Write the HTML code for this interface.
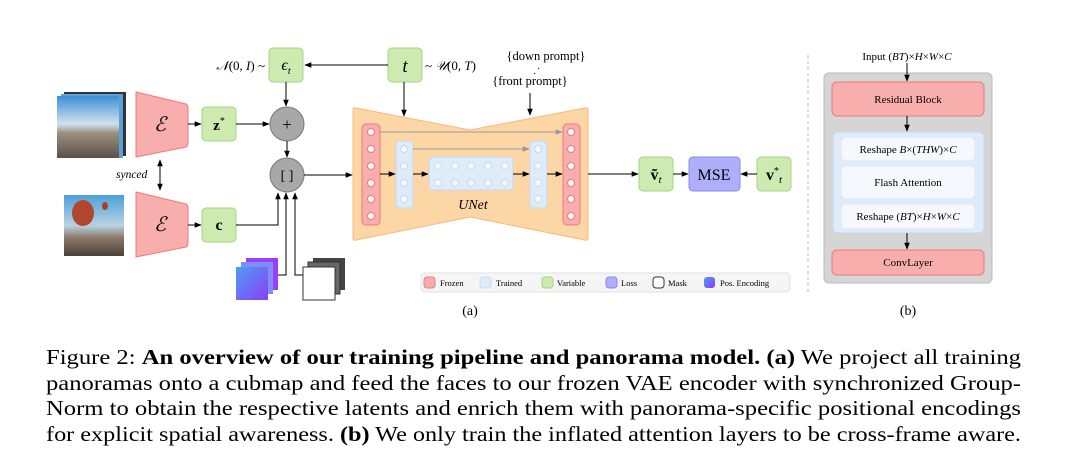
<!DOCTYPE html>
<html><head><meta charset="utf-8"><style>
html,body{margin:0;padding:0;background:#fff}
svg{display:block}
text{font-family:"Liberation Serif",serif}
</style></head><body>
<svg width="1080" height="475" viewBox="0 0 1080 475" xmlns="http://www.w3.org/2000/svg">
<defs>
<marker id="ar" viewBox="0 0 10 10" refX="9" refY="5" markerWidth="7" markerHeight="7" orient="auto"><path d="M0,1 L10,5 L0,9 z" fill="#000"/></marker>
<marker id="ag" viewBox="0 0 10 10" refX="9" refY="5" markerWidth="7" markerHeight="7" orient="auto"><path d="M0,1 L10,5 L0,9 z" fill="#999"/></marker>
<marker id="ars" viewBox="0 0 10 10" refX="1" refY="5" markerWidth="7" markerHeight="7" orient="auto"><path d="M10,1 L0,5 L10,9 z" fill="#000"/></marker>
<linearGradient id="sky" x1="0" y1="0" x2="0" y2="1"><stop offset="0" stop-color="#3d8fd6"/><stop offset="0.45" stop-color="#cfe2ee"/><stop offset="0.6" stop-color="#9a8f80"/><stop offset="1" stop-color="#5a5048"/></linearGradient>
<linearGradient id="sky2" x1="0" y1="0" x2="0" y2="1"><stop offset="0" stop-color="#4aa0dc"/><stop offset="0.5" stop-color="#b9d2e0"/><stop offset="0.7" stop-color="#8b7a6a"/><stop offset="1" stop-color="#4a4038"/></linearGradient>
<linearGradient id="pos" x1="0" y1="0" x2="1" y2="1"><stop offset="0" stop-color="#4f9cf5"/><stop offset="1" stop-color="#8a3ff5"/></linearGradient>
</defs>

<!-- images -->
<rect x="64" y="92" width="62" height="64" fill="#333"/>
<rect x="61" y="94" width="62" height="64" fill="#58a0d8"/>
<rect x="57" y="96" width="62" height="62" fill="url(#sky)"/>
<rect x="64" y="195" width="60" height="61" fill="url(#sky2)"/>
<ellipse cx="83" cy="213" rx="11" ry="13" fill="#b2452d"/>
<ellipse cx="105" cy="206" rx="3" ry="4" fill="#a34030"/>

<!-- encoders -->
<path d="M136,92 L186,104 Q188,105 188,108 L188,143 Q188,146 186,147 L136,157 Z" fill="#f9aeae" stroke="#f07878" stroke-width="1"/>
<path d="M136,192 L186,204 Q188,205 188,208 L188,243 Q188,246 186,247 L136,257 Z" fill="#f9aeae" stroke="#f07878" stroke-width="1"/>
<text x="160" y="131" font-size="20" font-style="italic" text-anchor="middle">ℰ</text>
<text x="160" y="231" font-size="20" font-style="italic" text-anchor="middle">ℰ</text>
<line x1="160" y1="160" x2="160" y2="190" stroke="#000" marker-end="url(#ar)" marker-start="url(#ars)"/>
<text x="116" y="178" font-size="11.5" font-style="italic">synced</text>

<!-- green boxes -->
<g fill="#cdeab0" stroke="#a6d486" stroke-width="1">
<rect x="202" y="107" width="34" height="34" rx="4"/>
<rect x="202" y="208" width="34" height="34" rx="4"/>
<rect x="269" y="48" width="34" height="34" rx="4"/>
<rect x="388" y="48" width="34" height="34" rx="4"/>
<rect x="639" y="157" width="34" height="34" rx="4"/>
<rect x="757" y="157" width="34" height="34" rx="4"/>
</g>
<text x="219" y="130" font-size="15" font-weight="bold" text-anchor="middle">z<tspan font-size="10" dy="-6" font-weight="normal">*</tspan></text>
<text x="219" y="230" font-size="16" font-weight="bold" text-anchor="middle">c</text>
<text x="286" y="70" font-size="16" font-style="italic" text-anchor="middle">ϵ<tspan font-size="10" dy="4">t</tspan></text>
<text x="405" y="72" font-size="19" font-style="italic" text-anchor="middle">t</text>
<text x="656" y="180" font-size="16" font-weight="bold" text-anchor="middle">ṽ<tspan font-size="11" font-style="italic" font-weight="normal" dy="3">t</tspan></text>
<text x="774" y="180" font-size="16" font-weight="bold" text-anchor="middle">v<tspan font-size="10" dy="-6" font-weight="normal">*</tspan><tspan font-size="11" font-style="italic" font-weight="normal" dy="9">t</tspan></text>
<text x="265" y="70" font-size="13" text-anchor="end"><tspan font-style="italic">𝒩</tspan>(0, <tspan font-style="italic">I</tspan>) ~</text>
<text x="425" y="70" font-size="13">~ <tspan font-style="italic">𝒰</tspan>(0, <tspan font-style="italic">T</tspan>)</text>
<text x="546" y="60" font-size="12.5" text-anchor="middle">{down prompt}</text>
<text x="530" y="85" font-size="12.5" text-anchor="middle">{front prompt}</text>
<text x="537" y="72" font-size="10">·</text><text x="533" y="77" font-size="10">·</text>

<!-- circles -->
<circle cx="287" cy="124" r="17" fill="#a8a8a8" stroke="#777"/>
<text x="287" y="130" font-size="17" text-anchor="middle">+</text>
<circle cx="287" cy="175" r="17" fill="#a8a8a8" stroke="#777"/>
<text x="287" y="180" font-size="14" text-anchor="middle">[ ]</text>

<!-- arrows left -->
<g stroke="#000" stroke-width="1" fill="none">
<line x1="388" y1="65" x2="305" y2="65" marker-end="url(#ar)"/>
<line x1="286" y1="82" x2="286" y2="106" marker-end="url(#ar)"/>
<line x1="188" y1="124" x2="201" y2="124" marker-end="url(#ar)"/>
<line x1="188" y1="225" x2="201" y2="225" marker-end="url(#ar)"/>
<line x1="236" y1="124" x2="269" y2="124" marker-end="url(#ar)"/>
<line x1="287" y1="141" x2="287" y2="157" marker-end="url(#ar)"/>
<polyline points="236,225 278,225 278,193" marker-end="url(#ar)"/>
<polyline points="278,275 286,275 286,193" marker-end="url(#ar)"/>
<polyline points="303,275 295,275 295,193" marker-end="url(#ar)"/>
<line x1="304" y1="175" x2="352" y2="175" marker-end="url(#ar)"/>
<line x1="404" y1="82" x2="404" y2="116" marker-end="url(#ar)"/>
<line x1="530" y1="93" x2="530" y2="115" marker-end="url(#ar)"/>
</g>

<!-- cubes -->
<rect x="246" y="258" width="32" height="32" fill="#9a3ff7"/>
<rect x="241" y="262" width="32" height="32" fill="#7e8ef7"/>
<rect x="236" y="267" width="32" height="33" fill="url(#pos)"/>
<rect x="313" y="258" width="32" height="32" fill="#444"/>
<rect x="308" y="262" width="32" height="32" fill="#666" stroke="#333"/>
<rect x="303" y="267" width="32" height="33" fill="#fff" stroke="#333"/>

<!-- UNet -->
<path d="M353,110 Q353,107 356,108 L470,130 L585,108 Q588,107 588,110 L588,238 Q588,241 585,240 L470,217 L356,240 Q353,241 353,238 Z" fill="#fdd6a6" stroke="#f8b878"/>
<g fill="#f9aeae" stroke="#f07878"><rect x="362" y="124" width="18" height="101" rx="4"/><rect x="563" y="124" width="17" height="101" rx="4"/></g>
<g fill="#deebf8" stroke="#c5daf0"><rect x="396" y="141" width="17" height="67" rx="4"/><rect x="530" y="141" width="17" height="67" rx="4"/><rect x="429" y="157" width="84" height="33" rx="4"/></g>
<g fill="#fff" stroke="#f07878">
<circle cx="371" cy="132" r="3.5"/><circle cx="371" cy="149" r="3.5"/><circle cx="371" cy="166" r="3.5"/><circle cx="371" cy="183" r="3.5"/><circle cx="371" cy="199" r="3.5"/><circle cx="371" cy="216" r="3.5"/>
<circle cx="571" cy="132" r="3.5"/><circle cx="571" cy="149" r="3.5"/><circle cx="571" cy="166" r="3.5"/><circle cx="571" cy="183" r="3.5"/><circle cx="571" cy="199" r="3.5"/><circle cx="571" cy="216" r="3.5"/>
</g>
<g fill="#f4f8fe" stroke="#c5daf0">
<circle cx="404" cy="149" r="3.5"/><circle cx="404" cy="166" r="3.5"/><circle cx="404" cy="183" r="3.5"/><circle cx="404" cy="199" r="3.5"/>
<circle cx="538" cy="149" r="3.5"/><circle cx="538" cy="166" r="3.5"/><circle cx="538" cy="183" r="3.5"/><circle cx="538" cy="199" r="3.5"/>
<circle cx="438" cy="166" r="3.5"/><circle cx="455" cy="166" r="3.5"/><circle cx="471" cy="166" r="3.5"/><circle cx="488" cy="166" r="3.5"/><circle cx="505" cy="166" r="3.5"/>
<circle cx="438" cy="183" r="3.5"/><circle cx="455" cy="183" r="3.5"/><circle cx="471" cy="183" r="3.5"/><circle cx="488" cy="183" r="3.5"/><circle cx="505" cy="183" r="3.5"/>
</g>
<g stroke="#999"><line x1="380" y1="132" x2="562" y2="132" marker-end="url(#ag)"/><line x1="413" y1="149" x2="529" y2="149" marker-end="url(#ag)"/></g>
<g stroke="#000"><line x1="380" y1="174" x2="395" y2="174" marker-end="url(#ar)"/><line x1="413" y1="174" x2="428" y2="174" marker-end="url(#ar)"/><line x1="513" y1="174" x2="529" y2="174" marker-end="url(#ar)"/><line x1="547" y1="174" x2="562" y2="174" marker-end="url(#ar)"/>
<line x1="588" y1="174" x2="638" y2="174" marker-end="url(#ar)"/><line x1="673" y1="174" x2="688" y2="174" marker-end="url(#ar)"/><line x1="757" y1="174" x2="741" y2="174" marker-end="url(#ar)"/></g>
<text x="473" y="209" font-size="14" font-style="italic" text-anchor="middle">UNet</text>
<rect x="689" y="157" width="51" height="34" rx="4" fill="#aeaefa" stroke="#8a8af0"/>
<text x="714" y="180" font-size="16" text-anchor="middle">MSE</text>

<!-- legend -->
<rect x="421" y="273" width="369" height="19" rx="4" fill="#f5f5f5" stroke="#e2e2e2"/>
<g font-size="8.5"><rect x="424" y="277" width="11" height="11" rx="3" fill="#f9aeae" stroke="#f07878"/><text x="440" y="286">Frozen</text>
<rect x="480" y="277" width="11" height="11" rx="3" fill="#deebf8" stroke="#c5daf0"/><text x="496" y="286">Trained</text>
<rect x="542" y="277" width="11" height="11" rx="3" fill="#cdeab0" stroke="#a6d486"/><text x="557" y="286">Variable</text>
<rect x="606" y="277" width="11" height="11" rx="3" fill="#aeaefa" stroke="#8a8af0"/><text x="621" y="286">Loss</text>
<rect x="653" y="277" width="11" height="11" rx="3" fill="#fff" stroke="#333"/><text x="668" y="286">Mask</text>
<rect x="704" y="277" width="11" height="11" rx="3" fill="url(#pos)"/><text x="720" y="286">Pos. Encoding</text></g>
<text x="470" y="315" font-size="14" text-anchor="middle">(a)</text>

<!-- panel b -->
<line x1="808" y1="55" x2="808" y2="292" stroke="#bbb" stroke-dasharray="3,3"/>
<text x="907" y="60" font-size="11" text-anchor="middle">Input (<tspan font-style="italic">BT</tspan>)×<tspan font-style="italic">H</tspan>×<tspan font-style="italic">W</tspan>×<tspan font-style="italic">C</tspan></text>
<rect x="824" y="73" width="168" height="210" rx="5" fill="#d5d5d5" stroke="#bbb"/>
<rect x="832" y="82" width="152" height="34" rx="5" fill="#f9aeae" stroke="#f07878"/>
<text x="908" y="103" font-size="11" text-anchor="middle">Residual Block</text>
<rect x="833" y="132" width="151" height="101" rx="5" fill="#deebf8" stroke="#c5daf0"/>
<g fill="#f5f8fd" stroke="#dde8f5"><rect x="841" y="137" width="134" height="24" rx="5"/><rect x="841" y="166" width="134" height="33" rx="5"/><rect x="841" y="204" width="134" height="25" rx="5"/></g>
<text x="908" y="153" font-size="11" text-anchor="middle">Reshape <tspan font-style="italic">B</tspan>×(<tspan font-style="italic">THW</tspan>)×<tspan font-style="italic">C</tspan></text>
<text x="908" y="186" font-size="11" text-anchor="middle">Flash Attention</text>
<text x="908" y="220" font-size="11" text-anchor="middle">Reshape (<tspan font-style="italic">BT</tspan>)×<tspan font-style="italic">H</tspan>×<tspan font-style="italic">W</tspan>×<tspan font-style="italic">C</tspan></text>
<rect x="832" y="250" width="152" height="25" rx="5" fill="#f9aeae" stroke="#f07878"/>
<text x="908" y="266" font-size="11" text-anchor="middle">ConvLayer</text>
<g stroke="#000"><line x1="907" y1="63" x2="907" y2="81" marker-end="url(#ar)"/><line x1="907" y1="116" x2="907" y2="131" marker-end="url(#ar)"/><line x1="907" y1="233" x2="907" y2="249" marker-end="url(#ar)"/></g>
<text x="908" y="315" font-size="14" text-anchor="middle">(b)</text>

<!-- caption -->
<g font-size="21.5">
<text x="46" y="364" textLength="975" lengthAdjust="spacingAndGlyphs">Figure 2: <tspan font-weight="bold">An overview of our training pipeline and panorama model. (a)</tspan> We project all training</text>
<text x="46" y="390" textLength="975" lengthAdjust="spacingAndGlyphs">panoramas onto a cubmap and feed the faces to our frozen VAE encoder with synchronized Group-</text>
<text x="46" y="415" textLength="975" lengthAdjust="spacingAndGlyphs">Norm to obtain the respective latents and enrich them with panorama-specific positional encodings</text>
<text x="46" y="441" textLength="975" lengthAdjust="spacingAndGlyphs">for explicit spatial awareness. <tspan font-weight="bold">(b)</tspan> We only train the inflated attention layers to be cross-frame aware.</text>
</g>
</svg>
</body></html>
